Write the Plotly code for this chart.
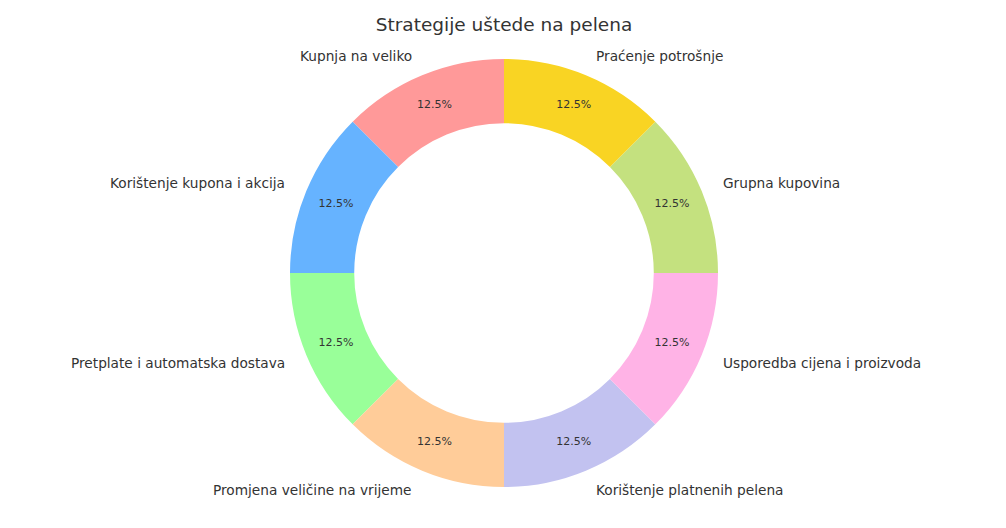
import math
import plotly.graph_objects as go

# data
strategies = [
    "Kupnja na veliko",
    "Korištenje kupona i akcija",
    "Pretplate i automatska dostava",
    "Promjena veličine na vrijeme",
    "Korištenje platnenih pelena",
    "Usporedba cijena i proizvoda",
    "Grupna kupovina",
    "Praćenje potrošnje",
]
shares = [1, 1, 1, 1, 1, 1, 1, 1]
colors = ["#ff9999", "#66b3ff", "#99ff99", "#ffcc99",
          "#c2c2f0", "#ffb3e6", "#c4e17f", "#f9d423"]

W, H = 1006, 528
OFF = 8  # page body margin
cx, cy, R = 504 - OFF, 273 - OFF, 214  # pie centre / radius in figure pixels
FONT = "DejaVu Sans"

fig = go.Figure()
fig.add_trace(go.Pie(
    labels=strategies,
    values=shares,
    sort=False,
    direction="counterclockwise",
    rotation=-45,
    hole=0.70,
    marker=dict(colors=colors, line=dict(width=0)),
    texttemplate="%{percent:.1%}",
    textposition="inside",
    insidetextorientation="horizontal",
    textfont=dict(family=FONT, size=11, color="#333333"),
    showlegend=False,
    hoverinfo="label+percent",
    domain=dict(x=[(cx - R) / W, (cx + R) / W],
                y=[(H - cy - R) / H, (H - cy + R) / H]),
))

# outside labels, matplotlib style (labeldistance 1.1)
total = sum(shares)
start = 90.0
annotations = []
for name, v in zip(strategies, shares):
    mid = math.radians(start + 360.0 * v / total / 2)
    start += 360.0 * v / total
    x = cx + 1.1 * R * math.cos(mid)
    y = cy - 1.1 * R * math.sin(mid)
    annotations.append(dict(
        x=x / W, y=1 - y / H, xref="paper", yref="paper",
        text=name, showarrow=False,
        xanchor="left" if math.cos(mid) > 0 else "right",
        yanchor="middle",
        font=dict(family=FONT, size=13.7, color="#333333"),
    ))

fig.update_layout(
    width=W, height=H,
    margin=dict(l=0, r=0, t=0, b=0),
    paper_bgcolor="white",
    plot_bgcolor="white",
    title=dict(text="Strategije uštede na pelena", x=(504 - OFF) / W, xanchor="center",
               y=1 - (25 - OFF) / H, yanchor="middle",
               font=dict(family=FONT, size=18.5, color="#333333")),
    annotations=annotations,
)

fig.write_html("out.html")
